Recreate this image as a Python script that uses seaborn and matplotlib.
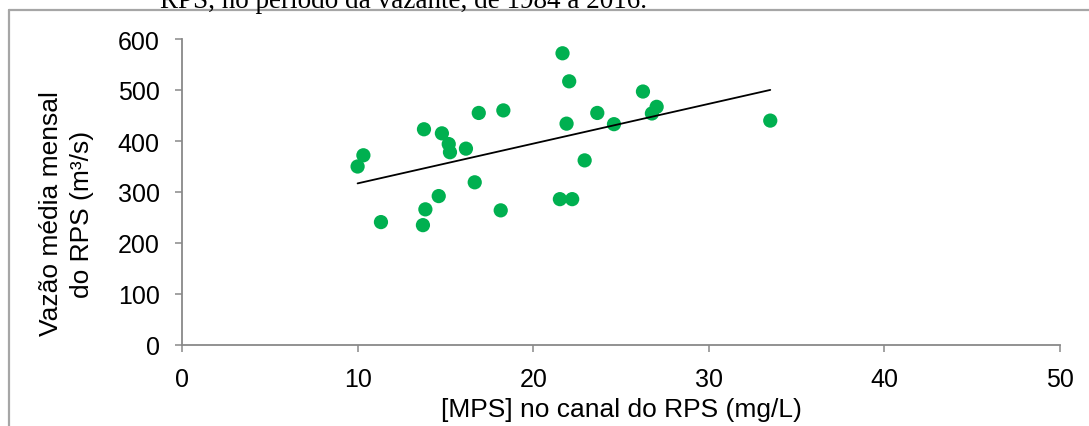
import numpy as np
import pandas as pd
import matplotlib
matplotlib.use("Agg")
import matplotlib.pyplot as plt
import seaborn as sns
from matplotlib.lines import Line2D

# [MPS] no canal do RPS (mg/L) vs vazão média mensal (m³/s), período da vazante
mps = [10.0, 10.33, 11.33, 13.72, 13.78, 13.86, 14.62, 14.8, 15.19, 15.26,
       16.17, 16.67, 16.9, 18.15, 18.3, 21.52, 21.67, 21.9, 22.05, 22.22,
       22.93, 23.65, 24.6, 26.25, 26.76, 27.03, 33.5]
vazao = [350, 372, 241, 235, 423, 266, 292, 415, 394, 378,
         385, 319, 455, 264, 460, 286, 572, 434, 517, 286,
         362, 455, 433, 497, 454, 467, 440]

x_ticks = [0, 10, 20, 30, 40, 50]
y_ticks = [0, 100, 200, 300, 400, 500, 600]

df = pd.DataFrame({"mps": mps, "vazao": vazao})

sns.set_style("white")
plt.rcParams['font.family'] = ['Liberation Sans', 'DejaVu Sans']
plt.rcParams['text.color'] = 'black'
plt.rcParams['axes.labelcolor'] = 'black'
plt.rcParams['xtick.color'] = 'black'
plt.rcParams['ytick.color'] = 'black'

fig = plt.figure(figsize=(10.89, 4.27), dpi=100)
ax = fig.add_axes([182 / 1089, 1 - 346 / 427, (1060 - 182) / 1089, (346 - 40) / 427])

sns.regplot(data=df, x="mps", y="vazao", ax=ax, ci=None,
            scatter_kws={"s": 105, "color": "#00B050", "edgecolor": "none", "alpha": 1},
            line_kws={"color": "black", "lw": 1.3})

ax.set_xlim(0, 50)
ax.set_ylim(0, 600)
ax.set_xticks(x_ticks)
ax.set_yticks(y_ticks)
ax.tick_params(axis="both", direction="out", length=5, width=1.1, color="#898989",
               labelcolor="black", labelsize=18, pad=11, left=True, bottom=True)
for side in ["top", "right"]:
    ax.spines[side].set_visible(False)
for side in ["left", "bottom"]:
    ax.spines[side].set_color("#898989")
    ax.spines[side].set_linewidth(1.3)

ax.set_xlabel("[MPS] no canal do RPS (mg/L)", fontsize=19, labelpad=4, color="black")
ax.set_ylabel("Vazão média mensal\ndo RPS (m³/s)", fontsize=19, linespacing=1.35, color="black")
ax.yaxis.set_label_coords((94 - 182) / 878, (346 - 214) / 306)

# outer frame of the figure box (only left and top visible)
fig.add_artist(Line2D([9 / 1089, 9 / 1089], [-0.05, 1 - 11 / 427], color="#a6a6a6", lw=1.6,
                      transform=fig.transFigure))
fig.add_artist(Line2D([9 / 1089, 1.05], [1 - 11 / 427, 1 - 11 / 427], color="#a6a6a6", lw=1.6,
                      transform=fig.transFigure))

# caption line cut off at the top
fig.text(160 / 1089, 1 - 8 / 427, "RPS, no período da vazante, de 1984 a 2016.",
         family=["Liberation Serif", "DejaVu Serif"], fontsize=19.5, va="baseline", ha="left")

fig.savefig("out.png", dpi=100)
